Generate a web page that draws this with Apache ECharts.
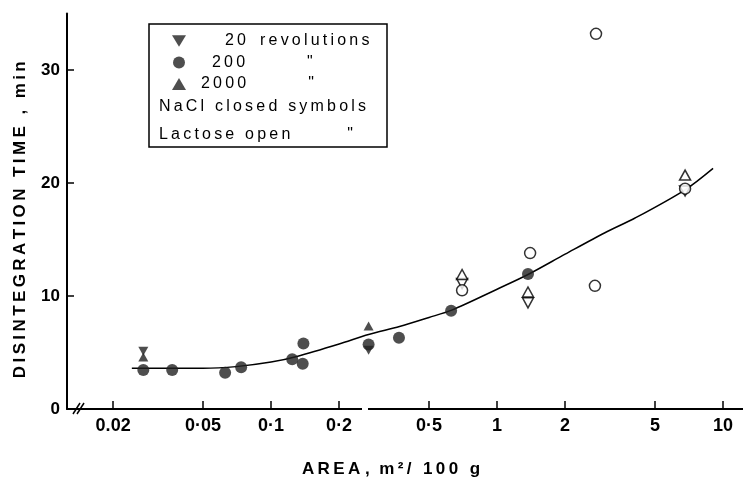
<!DOCTYPE html>
<html>
<head>
<meta charset="utf-8">
<title>Disintegration time vs area</title>
<script src="https://cdn.jsdelivr.net/npm/echarts@6/dist/echarts.min.js"></script>
<style>
  html, body { margin: 0; padding: 0; background: #fff; }
  #chart { width: 743px; height: 479px; }
</style>
</head>
<body>
<div id="chart"></div>
<script>
// axis ticks
const xTickValues = [0.02, 0.05, 0.1, 0.2, 0.5, 1, 2, 5, 10]
const xTickLabels = ['0.02', '0·05', '0·1', '0·2', '0·5', '1', '2', '5', '10']
const yTickValues = [0, 10, 20, 30]

// NaCl, closed symbols  [area m2/100g, disintegration time min]
const nacl20 = [[0.0272, 5.1], [0.27, 5.2]]
const nacl200 = [
  [0.0272, 3.45], [0.0365, 3.45], [0.0626, 3.2], [0.0737, 3.7],
  [0.124, 4.4], [0.138, 4.0], [0.139, 5.8], [0.27, 5.7],
  [0.368, 6.3], [0.626, 8.7], [1.37, 11.95]
]
const nacl2000 = [[0.0272, 4.6], [0.27, 7.35]]

// lactose, open symbols
const lactose20 = [[0.70, 11.1], [1.37, 9.4], [6.79, 19.3]]
const lactose200 = [[0.70, 10.5], [1.40, 13.8], [2.71, 10.9], [2.74, 33.2], [6.79, 19.5]]
const lactose2000 = [[0.70, 11.9], [1.37, 10.35], [6.79, 20.7]]

// fitted curve as drawn
const fitCurve = [
  [0.0242, 3.6], [0.035, 3.6], [0.05, 3.6], [0.07, 3.75], [0.1, 4.15],
  [0.13, 4.65], [0.2, 5.75], [0.27, 6.6], [0.37, 7.3], [0.5, 8.1],
  [0.63, 8.75], [1.0, 10.6], [1.37, 11.9], [2.0, 13.7], [3.0, 15.6],
  [4.08, 16.9], [6.79, 19.4], [9.03, 21.3]
]

const FONT = '"Liberation Sans", Arial, sans-serif'
const DOWN = 'path://M0,0L12,0L6,10Z'
// the original lettering is widely spaced
const sp = s => s.split('').join('\u2009')

const chart = echarts.init(document.getElementById('chart'))

const closed = { color: '#222' }
const open = { color: '#fff', borderColor: '#000', borderWidth: 1.5 }
const legendTok = extra => Object.assign({ fontFamily: FONT, fontSize: 16, color: '#000', lineHeight: 20, align: 'left' }, extra)

chart.setOption({
  animation: false,
  grid: { left: 67, right: 0, top: 13.5, bottom: 70, outerBoundsMode: 'none', containLabel: false },
  legend: {
    data: ['20 revolutions', '200 revolutions', '2000 revolutions'],
    orient: 'vertical',
    left: 172,
    top: 31,
    padding: 0,
    itemWidth: 14,
    itemHeight: 12,
    itemGap: 1.5,
    selectedMode: false,
    textStyle: {
      fontFamily: FONT,
      fontSize: 16,
      color: '#000',
      lineHeight: 20,
      rich: {
        n2: legendTok({ padding: [0, 0, 0, 34] }),
        n3: legendTok({ padding: [0, 0, 0, 21] }),
        n4: legendTok({ padding: [0, 0, 0, 10] }),
        r: legendTok({ padding: [0, 0, 0, 14] }),
        d: legendTok({ padding: [0, 0, 0, 62] })
      }
    },
    formatter: name => {
      const num = name.split(' ')[0]
      const key = 'n' + num.length
      if (num === '20') return '{' + key + '|' + sp(num) + '}{r|' + sp('revolutions') + '}'
      return '{' + key + '|' + sp(num) + '}{d|"}'
    }
  },
  xAxis: {
    type: 'log',
    min: 0.0125,
    max: 12.25,
    name: sp('AREA') + ' ,  ' + sp('m²/ 100 g'),
    nameLocation: 'middle',
    nameGap: 52,
    nameTextStyle: {
      fontFamily: FONT, fontSize: 17, fontWeight: 'bold', color: '#000',
      padding: [0, 28, 0, 0]
    },
    axisLine: { lineStyle: { color: '#000', width: 2 } },
    axisTick: { inside: true, length: 8, lineStyle: { color: '#000', width: 1.5 }, customValues: xTickValues },
    axisLabel: {
      customValues: xTickValues,
      formatter: v => xTickLabels[xTickValues.indexOf(v)],
      fontFamily: FONT, fontSize: 18, fontWeight: 'bold', color: '#000', margin: 8
    },
    splitLine: { show: false },
    minorTick: { show: false }
  },
  yAxis: {
    type: 'value',
    min: 0,
    max: 35,
    // trailing em space nudges the centred title down a little
    name: sp('DISINTEGRATION TIME , min') + '\u2003',
    nameLocation: 'middle',
    nameRotate: 90,
    nameGap: 38,
    nameTextStyle: {
      fontFamily: FONT, fontSize: 17, fontWeight: 'bold', color: '#000'
    },
    axisLine: { show: true, lineStyle: { color: '#000', width: 2 } },
    axisTick: { show: true, inside: true, length: 7, lineStyle: { color: '#000', width: 1.5 }, customValues: yTickValues },
    axisLabel: {
      customValues: yTickValues,
      fontFamily: FONT, fontSize: 17, fontWeight: 'bold', color: '#000', margin: 7
    },
    splitLine: { show: false }
  },
  graphic: [
    {
      type: 'rect', silent: true,
      shape: { x: 149, y: 24, width: 238, height: 123 },
      style: { fill: 'none', stroke: '#000', lineWidth: 1.5 }
    },
    {
      type: 'text', silent: true, x: 159, y: 107,
      style: { text: sp('NaCl closed symbols'), fontFamily: FONT, fontSize: 16, fill: '#000', verticalAlign: 'middle' }
    },
    {
      type: 'text', silent: true, x: 159, y: 135,
      style: { text: sp('Lactose open'), fontFamily: FONT, fontSize: 16, fill: '#000', verticalAlign: 'middle' }
    },
    {
      type: 'text', silent: true, x: 350, y: 135,
      style: { text: '"', fontFamily: FONT, fontSize: 16, fill: '#000', align: 'center', verticalAlign: 'middle' }
    },
    // axis break marks and the gap in the x axis
    { type: 'line', silent: true, z: 10, shape: { x1: 73, y1: 414, x2: 80, y2: 403 }, style: { stroke: '#000', lineWidth: 1.5 } },
    { type: 'line', silent: true, z: 10, shape: { x1: 77, y1: 414, x2: 84, y2: 403 }, style: { stroke: '#000', lineWidth: 1.5 } },
    { type: 'rect', silent: true, z: 10, shape: { x: 362, y: 406, width: 6, height: 6 }, style: { fill: '#fff' } }
  ],
  series: [
    {
      name: 'fit',
      type: 'line',
      data: fitCurve,
      smooth: 0.3,
      showSymbol: false,
      lineStyle: { color: '#000', width: 1.5 },
      silent: true,
      z: 1
    },
    { name: '20 revolutions', type: 'scatter', data: nacl20, symbol: DOWN, symbolSize: [10, 9], itemStyle: closed, z: 3 },
    { name: '200 revolutions', type: 'scatter', data: nacl200, symbol: 'circle', symbolSize: 12, itemStyle: closed, z: 3 },
    { name: '2000 revolutions', type: 'scatter', data: nacl2000, symbol: 'triangle', symbolSize: [10, 9], itemStyle: closed, z: 3 },
    { name: 'Lactose 20', type: 'scatter', data: lactose20, symbol: DOWN, symbolSize: [11, 10], itemStyle: open, z: 3 },
    { name: 'Lactose 200', type: 'scatter', data: lactose200, symbol: 'circle', symbolSize: 11, itemStyle: open, z: 3 },
    { name: 'Lactose 2000', type: 'scatter', data: lactose2000, symbol: 'triangle', symbolSize: [11, 10], itemStyle: open, z: 3 }
  ]
})
</script>
</body>
</html>
